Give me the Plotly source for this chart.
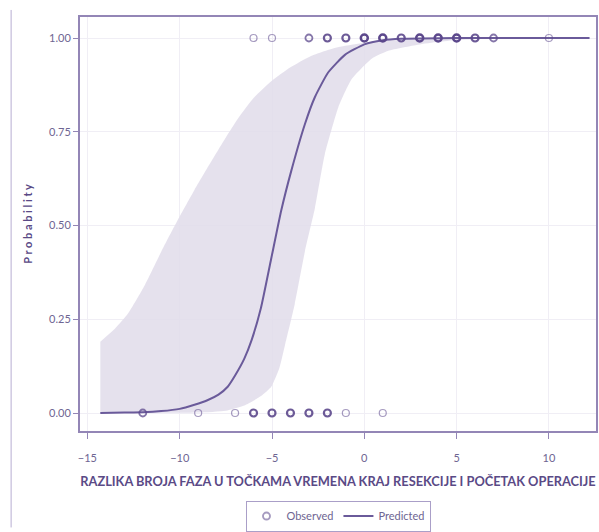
import plotly.graph_objects as go

# Observed outcomes (x, y, number of overlapping cases)
obs1_x = [-6, -5, -3, -2, -1, 0, 1, 2, 3, 4, 5, 6, 7, 10]
obs1_n = [1, 1, 2, 3, 3, 4, 4, 3, 4, 4, 4, 3, 2, 1]
obs0_x = [-12, -9, -7, -6, -5, -4, -3, -2, -1, 1]
obs0_n = [2, 1, 1, 3, 3, 3, 3, 3, 1, 1]

# Predicted probability curve
pred_x = [-14.3, -13, -12, -11, -10, -9.2, -8.5, -7.9, -7.4, -7.0, -6.5, -6.1, -5.6, -5.05,
          -4.5, -3.96, -3.22, -2.68, -1.96, -1.05, 0.0, 1.0, 2.0, 3.0, 5.0, 8.0, 12.2]
pred_p = [0.0003, 0.001, 0.002, 0.005, 0.011, 0.022, 0.034, 0.049, 0.07, 0.10, 0.145, 0.195,
          0.28, 0.41, 0.54, 0.645, 0.77, 0.842, 0.908, 0.955, 0.983, 0.994, 0.998, 0.999,
          1.0, 1.0, 1.0]

# Confidence band
upper_x = [-14.3, -13.5, -12.8, -11.9, -11.0, -10.1, -9.2, -8.3, -7.5, -6.85, -6.0, -5.04,
           -4.0, -2.86, -1.5, -0.15, 1.0, 2.5, 4.0, 6.0, 8.0, 12.2]
upper_p = [0.19, 0.225, 0.265, 0.34, 0.43, 0.515, 0.595, 0.67, 0.735, 0.785, 0.84, 0.885,
           0.922, 0.953, 0.975, 0.986, 0.993, 0.997, 0.999, 1.0, 1.0, 1.0]
lower_x = [-14.3, -11.0, -9.0, -7.5, -6.5, -5.6, -5.04, -4.6, -4.3, -3.77, -3.22, -2.68,
           -2.14, -1.41, -0.69, 0.4, 1.3, 2.9, 4.0, 5.0, 7.0, 12.2]
lower_p = [0.0, 0.0, 0.001, 0.006, 0.02, 0.045, 0.07, 0.12, 0.18, 0.29, 0.43, 0.545,
           0.69, 0.815, 0.89, 0.945, 0.966, 0.982, 0.99, 0.995, 0.999, 1.0]

x_ticks = [-15, -10, -5, 0, 5, 10]
y_ticks = [0.0, 0.25, 0.5, 0.75, 1.0]
y_tick_labels = ["0.00", "0.25", "0.50", "0.75", "1.00"]

LINE = "#6a5a9a"
AXIS = "#9386b6"
TICKTXT = "#6e6592"
TITLE = "#5a4a86"
FILL = "rgba(225,220,234,0.85)"


def col(n):
    a = {1: 0.55, 2: 0.75, 3: 0.9, 4: 1.0}[n]
    return f"rgba(92,72,140,{a})"


def wid(n):
    return {1: 1.2, 2: 1.8, 3: 2.2, 4: 2.5}[n]


fig = go.Figure()

band_x = upper_x + lower_x[::-1]
band_y = upper_p + lower_p[::-1]
fig.add_trace(go.Scatter(x=band_x, y=band_y, fill="toself", fillcolor=FILL,
                         line=dict(width=0, shape="spline", smoothing=0.5), mode="lines",
                         hoverinfo="skip", showlegend=False))

fig.add_trace(go.Scatter(x=pred_x, y=pred_p, mode="lines", name="Predicted",
                         line=dict(color=LINE, width=2, shape="spline", smoothing=0.5),
                         legendrank=2))

all_x = obs1_x + obs0_x
all_y = [1.0] * len(obs1_x) + [0.0] * len(obs0_x)
all_n = obs1_n + obs0_n
fig.add_trace(go.Scatter(x=all_x, y=all_y, mode="markers", name="Observed",
                         marker=dict(symbol="circle-open", size=7,
                                     color=[col(n) for n in all_n],
                                     line=dict(width=[wid(n) for n in all_n])),
                         legendrank=1))

fig.update_layout(
    width=599, height=532,
    margin=dict(l=80, r=1, t=17, b=99),
    paper_bgcolor="white", plot_bgcolor="white",
    font=dict(family="Lato", color=TICKTXT, size=11),
    showlegend=True,
    legend=dict(orientation="h", x=0.5, xanchor="center", y=-0.168, yanchor="top",
                bordercolor="#aa9fc8", borderwidth=1, font=dict(size=11, color=TICKTXT),
                itemwidth=30, tracegroupgap=0),
    shapes=[dict(type="line", xref="paper", yref="paper", x0=-0.1335, x1=-0.1335,
                 y0=1.017, y1=-0.233, line=dict(color="#b8aed2", width=1))],
)

fig.update_xaxes(range=[-15.4, 12.55], tickvals=x_ticks, ticks="outside", ticklen=6,
                 tickcolor=AXIS, showline=True, linecolor=AXIS, linewidth=2, mirror=True,
                 showgrid=True, gridcolor="#f0eef5", zeroline=False, ticklabelstandoff=10,
                 title=dict(text="<b>RAZLIKA BROJA FAZA U TOČKAMA VREMENA KRAJ RESEKCIJE I POČETAK OPERACIJE</b>",
                            font=dict(size=12.8, color=TITLE), standoff=14))
fig.update_yaxes(range=[-0.048, 1.056], tickvals=y_ticks, ticktext=y_tick_labels,
                 ticks="outside", ticklen=5, tickcolor=AXIS, showline=True, linecolor=AXIS,
                 linewidth=2, mirror=True, showgrid=True, gridcolor="#f0eef5", zeroline=False,
                 title=dict(text="<b>P r o b a b i l i t y</b>", font=dict(size=11, color=TITLE),
                            standoff=14))

fig.write_html("out.html", config={"displayModeBar": False},
               post_script="document.body.style.margin='0';")
